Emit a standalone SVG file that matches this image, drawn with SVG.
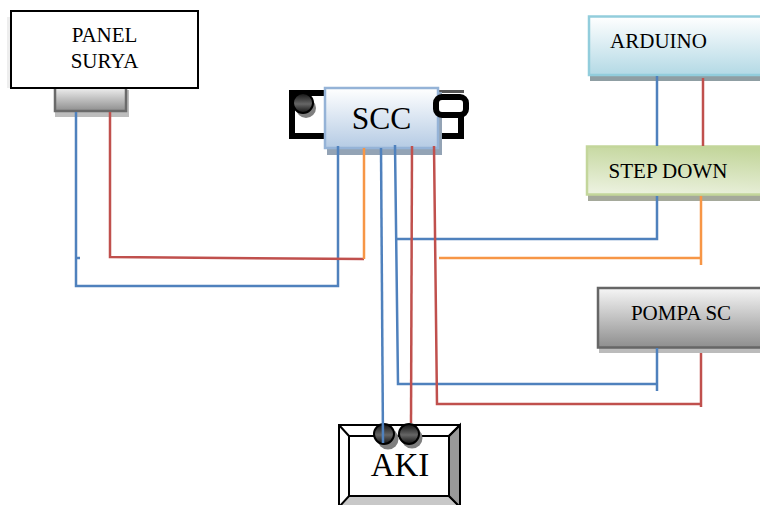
<svg xmlns="http://www.w3.org/2000/svg" width="760" height="505" viewBox="0 0 760 505">
<defs>
<linearGradient id="gGrey" x1="0" y1="0" x2="0" y2="1"><stop offset="0" stop-color="#f6f6f6"/><stop offset="1" stop-color="#8e8e8e"/></linearGradient>
<linearGradient id="gBlue" x1="0" y1="0" x2="0" y2="1"><stop offset="0" stop-color="#ffffff"/><stop offset="1" stop-color="#b5cbe4"/></linearGradient>
<linearGradient id="gCyan" x1="0" y1="0" x2="0" y2="1"><stop offset="0" stop-color="#ffffff"/><stop offset="1" stop-color="#b3d9e5"/></linearGradient>
<linearGradient id="gGreen" x1="0.6" y1="0" x2="0.4" y2="1"><stop offset="0" stop-color="#c3d69b"/><stop offset="1" stop-color="#ebf1de"/></linearGradient>
<linearGradient id="gBall" x1="0" y1="0" x2="0" y2="1"><stop offset="0" stop-color="#111"/><stop offset="0.55" stop-color="#666"/><stop offset="1" stop-color="#111"/></linearGradient>
</defs>
<style>
text{font-family:"Liberation Serif","Times New Roman",serif;fill:#000;text-anchor:middle}
.lbl{font-size:21px}
.w{fill:none;stroke-width:2.5}
.b{stroke:#4f81bd}.r{stroke:#c0504d}.o{stroke:#f79646}
.ball{fill:url(#gBall);stroke:#000;stroke-width:2}
.shade{fill:#7f7f7f}
</style>
<rect width="760" height="505" fill="#fff"/>
<g id="panel-surya">
<rect x="7" y="17" width="10" height="71" fill="#eeeeee"/>
<rect x="55" y="90" width="74" height="27" fill="#bdbdbd"/>
<rect x="55" y="86" width="71" height="25" fill="url(#gGrey)" stroke="#6a6a6a" stroke-width="2.5"/>
<rect x="11" y="11" width="187" height="77" fill="#fff" stroke="#000" stroke-width="2"/>
<text class="lbl" x="104.500" y="42">PANEL</text>
<text class="lbl" x="104.500" y="68">SURYA</text>
</g>
<g id="scc">
<path d="M326 93H292V136H326" fill="#fff" stroke="#000" stroke-width="6"/>
<path d="M438 136H461V115" fill="none" stroke="#000" stroke-width="6"/>
<path d="M438 91.500H464" fill="none" stroke="#555" stroke-width="3"/>
<circle class="shade" cx="306" cy="108" r="10"/>
<circle class="ball" cx="303" cy="103" r="10" stroke="none"/>
<rect x="327" y="92" width="115" height="63" fill="#93a3b5"/>
<rect x="325" y="88" width="113" height="60" fill="url(#gBlue)" stroke="#95b3d7" stroke-width="2.5"/>
<rect x="436" y="97" width="30" height="18" rx="6" fill="#fff" stroke="#000" stroke-width="6"/>
<text x="381.500" y="129" font-size="31.500">SCC</text>
</g>
<g id="arduino">
<rect x="590" y="20" width="172" height="61" fill="#8f9ea3"/>
<rect x="589" y="16.500" width="173" height="58.500" fill="url(#gCyan)" stroke="#92cddc" stroke-width="2.500"/>
<text class="lbl" x="658.500" y="48">ARDUINO</text>
</g>
<g id="step-down">
<rect x="588" y="150" width="174" height="51" fill="#a5a99b"/>
<rect x="587" y="146.500" width="175" height="48" fill="url(#gGreen)" stroke="#c3d69b" stroke-width="2.500"/>
<text class="lbl" x="668" y="178">STEP DOWN</text>
</g>
<g id="pompa-sc">
<rect x="599" y="292" width="163" height="61" fill="#bbbbbb"/>
<rect x="598" y="288" width="164" height="59.500" fill="url(#gGrey)" stroke="#666" stroke-width="2.500"/>
<text class="lbl" x="681" y="320">POMPA SC</text>
</g>
<g id="aki">
<rect x="339" y="425" width="121" height="82" fill="#fff" stroke="#000" stroke-width="2"/>
<path d="M339 507L349 496H449L460 507Z" fill="#c8c8c8" stroke="#000" stroke-width="2"/>
<path d="M460 425L449 436V496L460 507Z" fill="#999" stroke="#000" stroke-width="2"/>
<path d="M339 425L349 436M460 425L449 436" stroke="#000" stroke-width="2"/>
<rect x="349" y="436" width="100" height="60" fill="#fff" stroke="#000" stroke-width="2"/>
<circle class="shade" cx="388" cy="439" r="10.500"/>
<circle class="shade" cx="412" cy="438" r="10.500"/>
<circle class="ball" cx="384" cy="434" r="10"/>
<circle class="ball" cx="409" cy="434" r="10"/>
<text x="400" y="476" font-size="33">AKI</text>
</g>
<g id="connectors">
<path class="w b" d="M76 112V286H338V146"/>
<path class="w b" d="M76 258H80"/>
<path class="w r" d="M110 112V257L364 259"/>
<path class="w o" d="M364 148V259"/>
<path class="w b" d="M381 148L383 443"/>
<path class="w b" d="M395 145L398 384H657"/>
<path class="w b" d="M657 348V391"/>
<path class="w b" d="M397 239H657V196"/>
<path class="w r" d="M412 146L411 423"/>
<path class="w r" d="M434 146L437 404H701"/>
<path class="w r" d="M701 353V407"/>
<path class="w o" d="M439 258H701"/>
<path class="w o" d="M701 196V265"/>
<path class="w b" d="M657 76V146"/>
<path class="w r" d="M703 78V146"/>
</g>
</svg>
